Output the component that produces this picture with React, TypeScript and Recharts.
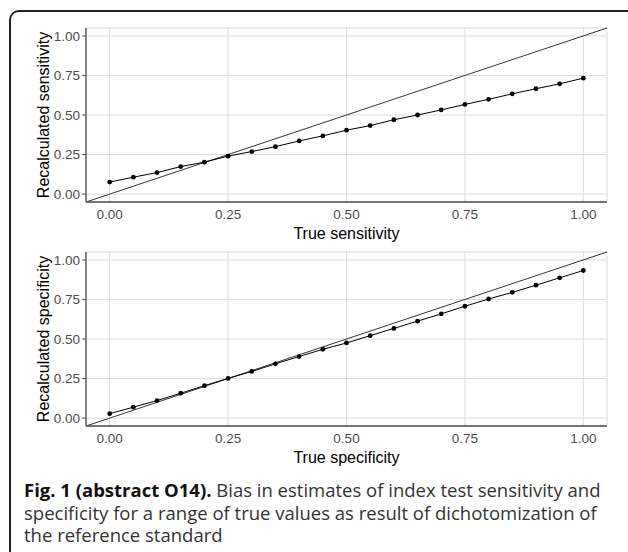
import { CartesianGrid, ComposedChart, Line, ReferenceLine, XAxis, YAxis } from 'recharts';

const trueValues = [0, 0.05, 0.1, 0.15, 0.2, 0.25, 0.3, 0.35, 0.4, 0.45, 0.5, 0.55, 0.6, 0.65, 0.7, 0.75, 0.8, 0.85, 0.9, 0.95, 1.0];
const recalcSensitivity = [0.076, 0.107, 0.136, 0.174, 0.202, 0.24, 0.269, 0.3, 0.336, 0.368, 0.404, 0.433, 0.47, 0.5, 0.532, 0.567, 0.599, 0.634, 0.666, 0.697, 0.733];
const recalcSpecificity = [0.028, 0.069, 0.111, 0.157, 0.205, 0.251, 0.295, 0.343, 0.389, 0.435, 0.475, 0.521, 0.567, 0.613, 0.659, 0.707, 0.753, 0.795, 0.84, 0.887, 0.933];
const axisTicks = [0, 0.25, 0.5, 0.75, 1];

const captionLines = [
  'Bias in estimates of index test sensitivity and',
  'specificity for a range of true values as result of dichotomization of',
  'the reference standard',
];

const FONT = '"Liberation Sans", Arial, sans-serif';

function XTitle({ viewBox, value }: any) {
  return (
    <text x={viewBox.x + viewBox.width / 2} y={viewBox.y + 37} textAnchor="middle" fontSize={16} fill="#000" fontFamily={FONT}>
      {value}
    </text>
  );
}

function YTitle({ viewBox, value }: any) {
  const cx = 48.5;
  const cy = viewBox.y + viewBox.height / 2;
  return (
    <text x={cx} y={cy} transform={`rotate(-90, ${cx}, ${cy})`} textAnchor="middle" fontSize={16} fill="#000" fontFamily={FONT}>
      {value}
    </text>
  );
}

interface PanelProps {
  values: number[];
  xLabel: string;
  yLabel: string;
  top: number;
}

function Panel({ values, xLabel, yLabel, top }: PanelProps) {
  const data = trueValues.map((x, i) => ({ x, y: values[i] }));
  return (
    <div style={{ position: 'absolute', left: 0, top }}>
      <ComposedChart width={628} height={250} data={data} margin={{ top: 28, right: 21, bottom: 8, left: 0 }}>
        <CartesianGrid stroke="#dcdcdc" strokeWidth={1} />
        <XAxis
          type="number"
          dataKey="x"
          domain={[-0.05, 1.05]}
          ticks={axisTicks}
          allowDataOverflow
          tickFormatter={(v: number) => v.toFixed(2)}
          tick={{ fontSize: 13.5, fill: '#4d4d4d', fontFamily: FONT }}
          tickLine={false}
          tickSize={4}
          tickMargin={3.2}
          axisLine={{ stroke: '#4d4d4d', strokeWidth: 1.3 }}
          height={40}
          label={<XTitle value={xLabel} />}
        />
        <YAxis
          type="number"
          domain={[-0.05, 1.05]}
          ticks={axisTicks}
          allowDataOverflow
          tickFormatter={(v: number) => v.toFixed(2)}
          tick={{ fontSize: 13.5, fill: '#4d4d4d', fontFamily: FONT }}
          tickLine={{ stroke: '#4d4d4d' }}
          tickSize={4}
          tickMargin={2}
          axisLine={{ stroke: '#4d4d4d', strokeWidth: 1.3 }}
          width={86}
          label={<YTitle value={yLabel} />}
        />
        <ReferenceLine
          segment={[{ x: -0.05, y: -0.05 }, { x: 1.05, y: 1.05 }]}
          stroke="#333"
          strokeWidth={1}
          ifOverflow="visible"
        />
        <Line
          type="linear"
          dataKey="y"
          stroke="#000"
          strokeWidth={1}
          dot={{ r: 2.4, fill: '#000', stroke: 'none' }}
          isAnimationActive={false}
        />
      </ComposedChart>
    </div>
  );
}

export default function App() {
  return (
    <div style={{ position: 'absolute', left: 0, top: 0, width: 628, height: 552, overflow: 'hidden', background: '#fff' }}>
      <div
        style={{
          position: 'absolute',
          left: 9,
          top: 10,
          width: 660,
          height: 600,
          border: '2px solid #222',
          borderRadius: 10,
        }}
      />
      <Panel values={recalcSensitivity} xLabel="True sensitivity" yLabel="Recalculated sensitivity" top={0} />
      <Panel values={recalcSpecificity} xLabel="True specificity" yLabel="Recalculated specificity" top={224} />
      <div
        style={{
          position: 'absolute',
          left: 24,
          top: 479,
          fontFamily: '"Open Sans", "Noto Sans", sans-serif',
          fontSize: 18.5,
          lineHeight: '22.7px',
          color: '#333',
          whiteSpace: 'nowrap',
        }}
      >
        <div>
          <span style={{ fontWeight: 700, color: '#111' }}>Fig. 1 (abstract O14).</span> {captionLines[0]}
        </div>
        <div>{captionLines[1]}</div>
        <div>{captionLines[2]}</div>
      </div>
    </div>
  );
}
